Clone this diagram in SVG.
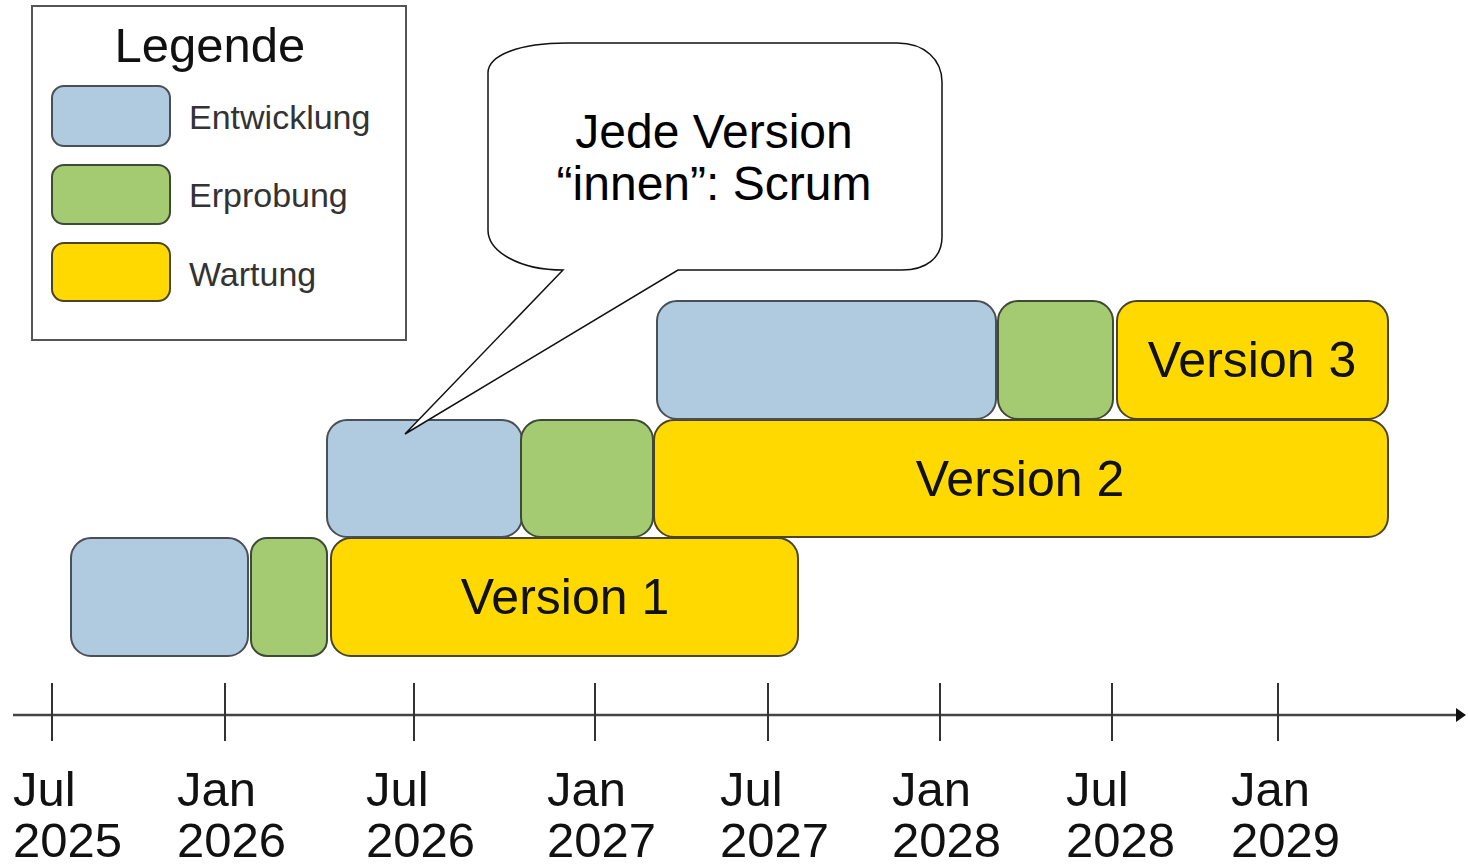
<svg xmlns="http://www.w3.org/2000/svg" width="1468" height="865" viewBox="0 0 1468 865">
<style>
text{font-family:"Liberation Sans",Arial,sans-serif}
.dev{fill:#b0cadf;stroke:#4a4f55;stroke-width:2}
.test{fill:#a4cb72;stroke:#3f4a35;stroke-width:2}
.maint{fill:#ffd900;stroke:#4a4528;stroke-width:2}
.ver{font-size:50px;fill:#111;text-anchor:middle}
.leg{font-size:34px;fill:#333}
.tick{stroke:#333;stroke-width:2}
.ax{font-size:49px;fill:#111}
</style>
<defs>
<marker id="arr" markerWidth="10" markerHeight="14" refX="1" refY="7" orient="auto" markerUnits="userSpaceOnUse">
<polygon points="0,0 10,7 0,14" fill="#111"/>
</marker>
</defs>
<rect width="1468" height="865" fill="#fff"/>
<g id="legend">
<rect x="32" y="6" width="374" height="334" fill="#fff" stroke="#555" stroke-width="2"/>
<text x="210" y="62" font-size="49" fill="#111" text-anchor="middle">Legende</text>
<rect class="dev" x="52" y="86" width="118" height="60" rx="12"/>
<rect class="test" x="52" y="165" width="118" height="59" rx="12"/>
<rect class="maint" x="52" y="243" width="118" height="58" rx="12"/>
<text class="leg" x="189" y="129">Entwicklung</text>
<text class="leg" x="189" y="207">Erprobung</text>
<text class="leg" x="189" y="286">Wartung</text>
</g>
<g id="version1">
<rect class="dev" x="71" y="538" width="177" height="118" rx="20"/>
<rect class="test" x="251" y="538" width="76" height="118" rx="16"/>
<rect class="maint" x="331" y="538" width="467" height="118" rx="20"/>
<text class="ver" x="565" y="614">Version 1</text>
</g>
<g id="version2">
<rect class="dev" x="327" y="420" width="195" height="117" rx="20"/>
<rect class="test" x="521" y="420" width="132" height="117" rx="20"/>
<rect class="maint" x="654" y="420" width="734" height="117" rx="20"/>
<text class="ver" x="1020" y="496">Version 2</text>
</g>
<g id="version3">
<rect class="dev" x="657" y="301" width="339" height="118" rx="20"/>
<rect class="test" x="998" y="301" width="115" height="118" rx="20"/>
<rect class="maint" x="1117" y="301" width="271" height="118" rx="20"/>
<text class="ver" x="1252" y="377">Version 3</text>
</g>
<g id="callout">
<path d="M563,270 L405,434 L678,270 L902,270 C926,270 942,258 942,237 L942,82 C942,60 925,43 897,43 L567,43 C520,43 488,55 488,73 L488,230 C488,252 520,270 563,270 Z" fill="#fff" stroke="#111" stroke-width="1.5"/>
<text x="714" y="148" font-size="48" fill="#000" text-anchor="middle">Jede Version</text>
<text x="714" y="200" font-size="48" fill="#000" text-anchor="middle">“innen”: Scrum</text>
</g>
<g id="connectors">
<line x1="13" y1="715" x2="1457" y2="715" stroke="#444" stroke-width="2.5" marker-end="url(#arr)"/>
</g>
<g id="axis">
<line class="tick" x1="52" y1="683" x2="52" y2="741"/>
<line class="tick" x1="225" y1="683" x2="225" y2="741"/>
<line class="tick" x1="414" y1="683" x2="414" y2="741"/>
<line class="tick" x1="595" y1="683" x2="595" y2="741"/>
<line class="tick" x1="768" y1="683" x2="768" y2="741"/>
<line class="tick" x1="940" y1="683" x2="940" y2="741"/>
<line class="tick" x1="1112" y1="683" x2="1112" y2="741"/>
<line class="tick" x1="1278" y1="683" x2="1278" y2="741"/>
<text class="ax" x="13" y="806">Jul</text><text class="ax" x="13" y="857">2025</text>
<text class="ax" x="177" y="806">Jan</text><text class="ax" x="177" y="857">2026</text>
<text class="ax" x="366" y="806">Jul</text><text class="ax" x="366" y="857">2026</text>
<text class="ax" x="547" y="806">Jan</text><text class="ax" x="547" y="857">2027</text>
<text class="ax" x="720" y="806">Jul</text><text class="ax" x="720" y="857">2027</text>
<text class="ax" x="892" y="806">Jan</text><text class="ax" x="892" y="857">2028</text>
<text class="ax" x="1066" y="806">Jul</text><text class="ax" x="1066" y="857">2028</text>
<text class="ax" x="1231" y="806">Jan</text><text class="ax" x="1231" y="857">2029</text>
</g>
</svg>
